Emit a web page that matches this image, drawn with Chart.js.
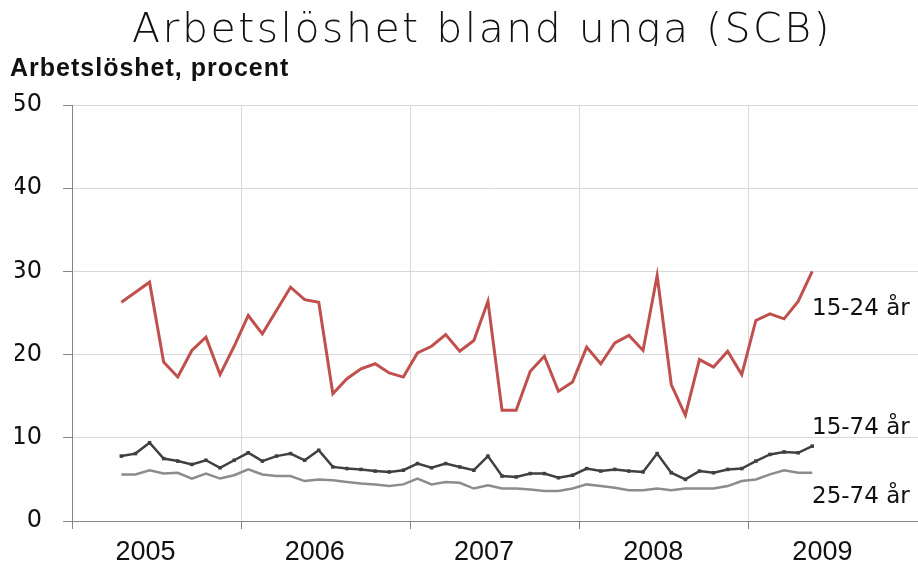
<!DOCTYPE html>
<html>
<head>
<meta charset="utf-8">
<script src="https://cdn.jsdelivr.net/npm/chart.js@4.4.1/dist/chart.umd.min.js"></script>
<style>
  html, body { margin: 0; padding: 0; background: #fff; }
</style>
</head>
<body>
<canvas id="unga" width="918" height="577"></canvas>
<script>
const years = ['2005', '2006', '2007', '2008', '2009'];
const firstMonth = 3; // april 2005, months counted from jan 2005

// monthly unemployment, percent, apr 2005 - may 2009
const ages1524 = [
  26.3, 27.5, 28.7, 19.1, 17.3, 20.5, 22.1, 17.6, 21.0,
  24.7, 22.5, 25.3, 28.1, 26.6, 26.3, 15.3, 17.1, 18.3, 18.9, 17.8, 17.3,
  20.2, 21.0, 22.4, 20.4, 21.7, 26.4, 13.3, 13.3, 18.0, 19.8, 15.6, 16.7,
  20.9, 18.9, 21.4, 22.3, 20.5, 29.5, 16.4, 12.7, 19.4, 18.5, 20.4, 17.6,
  24.1, 24.9, 24.3, 26.4, 30.0
];
const ages1574 = [
  7.8, 8.1, 9.4, 7.5, 7.2, 6.8, 7.3, 6.4, 7.3,
  8.2, 7.2, 7.8, 8.1, 7.3, 8.5, 6.5, 6.3, 6.2, 6.0, 5.9, 6.1,
  6.9, 6.4, 6.9, 6.5, 6.1, 7.8, 5.4, 5.3, 5.7, 5.7, 5.2, 5.5,
  6.3, 6.0, 6.2, 6.0, 5.9, 8.1, 5.8, 5.0, 6.0, 5.8, 6.2, 6.3,
  7.2, 8.0, 8.3, 8.2, 9.0
];
const ages2574 = [
  5.6, 5.6, 6.1, 5.7, 5.8, 5.1, 5.7, 5.1, 5.5,
  6.2, 5.6, 5.4, 5.4, 4.8, 5.0, 4.9, 4.7, 4.5, 4.4, 4.2, 4.4,
  5.1, 4.4, 4.7, 4.6, 3.9, 4.3, 3.9, 3.9, 3.8, 3.6, 3.6, 3.9,
  4.4, 4.2, 4.0, 3.7, 3.7, 3.9, 3.7, 3.9, 3.9, 3.9, 4.2, 4.8,
  5.0, 5.6, 6.1, 5.8, 5.8
];
const seriesNames = ['15-24 år', '15-74 år', '25-74 år'];
const heading = 'Arbetslöshet bland unga (SCB)';
const unitText = 'Arbetslöshet, procent';

const toPoints = vals => vals.map((v, i) => ({ x: firstMonth + i + 0.5, y: v }));

const axisGrey = '#868686';
const gridGrey = '#d9d9d9';
const onYearLine = ctx => ctx.tick && ctx.tick.value % 12 === 0 && ctx.tick.value < 60;

// let layout.padding alone decide where the plot sits
const noScalePadding = scale => {
  scale.paddingLeft = 0;
  scale.paddingRight = 0;
  scale.paddingTop = 0;
  scale.paddingBottom = 0;
};

const textPlugin = {
  id: 'texts',
  afterDraw(chart) {
    const ctx = chart.ctx;
    const y = chart.scales.y;
    ctx.save();
    ctx.fillStyle = '#111';
    ctx.textBaseline = 'alphabetic';

    // heading (the original has its descenders cut off)
    ctx.save();
    ctx.beginPath();
    ctx.rect(0, 0, chart.width, 46);
    ctx.clip();
    ctx.font = '200 41px "DejaVu Sans"';
    ctx.letterSpacing = '2.5px';
    ctx.textAlign = 'center';
    ctx.fillText(heading, 482, 42);
    ctx.restore();

    ctx.font = 'bold 25px "Liberation Sans"';
    ctx.letterSpacing = '1px';
    ctx.textAlign = 'left';
    ctx.fillText(unitText, 10, 76);
    ctx.letterSpacing = '0px';

    ctx.font = '23px "DejaVu Sans"';
    const labelValues = [24.7, 10.4, 2.2];
    seriesNames.forEach((name, i) => {
      ctx.fillText(name, 812, y.getPixelForValue(labelValues[i]));
    });
    ctx.restore();
  }
};

new Chart(document.getElementById('unga'), {
  type: 'line',
  data: {
    datasets: [{
      label: seriesNames[0],
      data: toPoints(ages1524),
      borderColor: '#c0504d',
      borderWidth: 3,
      pointRadius: 0
    }, {
      label: seriesNames[1],
      data: toPoints(ages1574),
      borderColor: '#404040',
      borderWidth: 2.5,
      pointStyle: 'rect',
      pointRadius: 2.5,
      pointBackgroundColor: '#404040',
      pointBorderWidth: 0
    }, {
      label: seriesNames[2],
      data: toPoints(ages2574),
      borderColor: '#8c8c8c',
      borderWidth: 2.5,
      pointRadius: 0
    }]
  },
  options: {
    responsive: false,
    animation: false,
    devicePixelRatio: 1,
    layout: { autoPadding: false, padding: { top: 105, left: 15, right: 0, bottom: 1 } },
    plugins: {
      legend: { display: false },
      tooltip: { enabled: false }
    },
    scales: {
      x: {
        type: 'linear',
        min: 0,
        max: 60,
        border: { color: axisGrey },
        grid: {
          color: ctx => onYearLine(ctx) ? gridGrey : 'transparent',
          tickColor: ctx => onYearLine(ctx) ? axisGrey : 'transparent',
          tickLength: 8
        },
        ticks: { stepSize: 12, display: false },
        afterFit: noScalePadding
      },
      years: {
        type: 'category',
        position: 'bottom',
        labels: years,
        offset: true,
        grid: { display: false, drawTicks: false },
        border: { display: false },
        ticks: {
          padding: 10,
          labelOffset: -11,
          maxRotation: 0,
          color: '#111',
          font: { family: '"Liberation Sans"', size: 27, lineHeight: 1 }
        },
        afterFit: noScalePadding
      },
      y: {
        min: 0,
        max: 50,
        border: { color: axisGrey },
        grid: { color: gridGrey, tickColor: axisGrey, tickLength: 9 },
        ticks: {
          stepSize: 10,
          padding: 21,
          color: '#111',
          font: { family: '"DejaVu Sans"', size: 24 }
        },
        afterFit: scale => {
          noScalePadding(scale);
          scale.width = 57;
        }
      }
    }
  },
  plugins: [textPlugin]
});
</script>
</body>
</html>
